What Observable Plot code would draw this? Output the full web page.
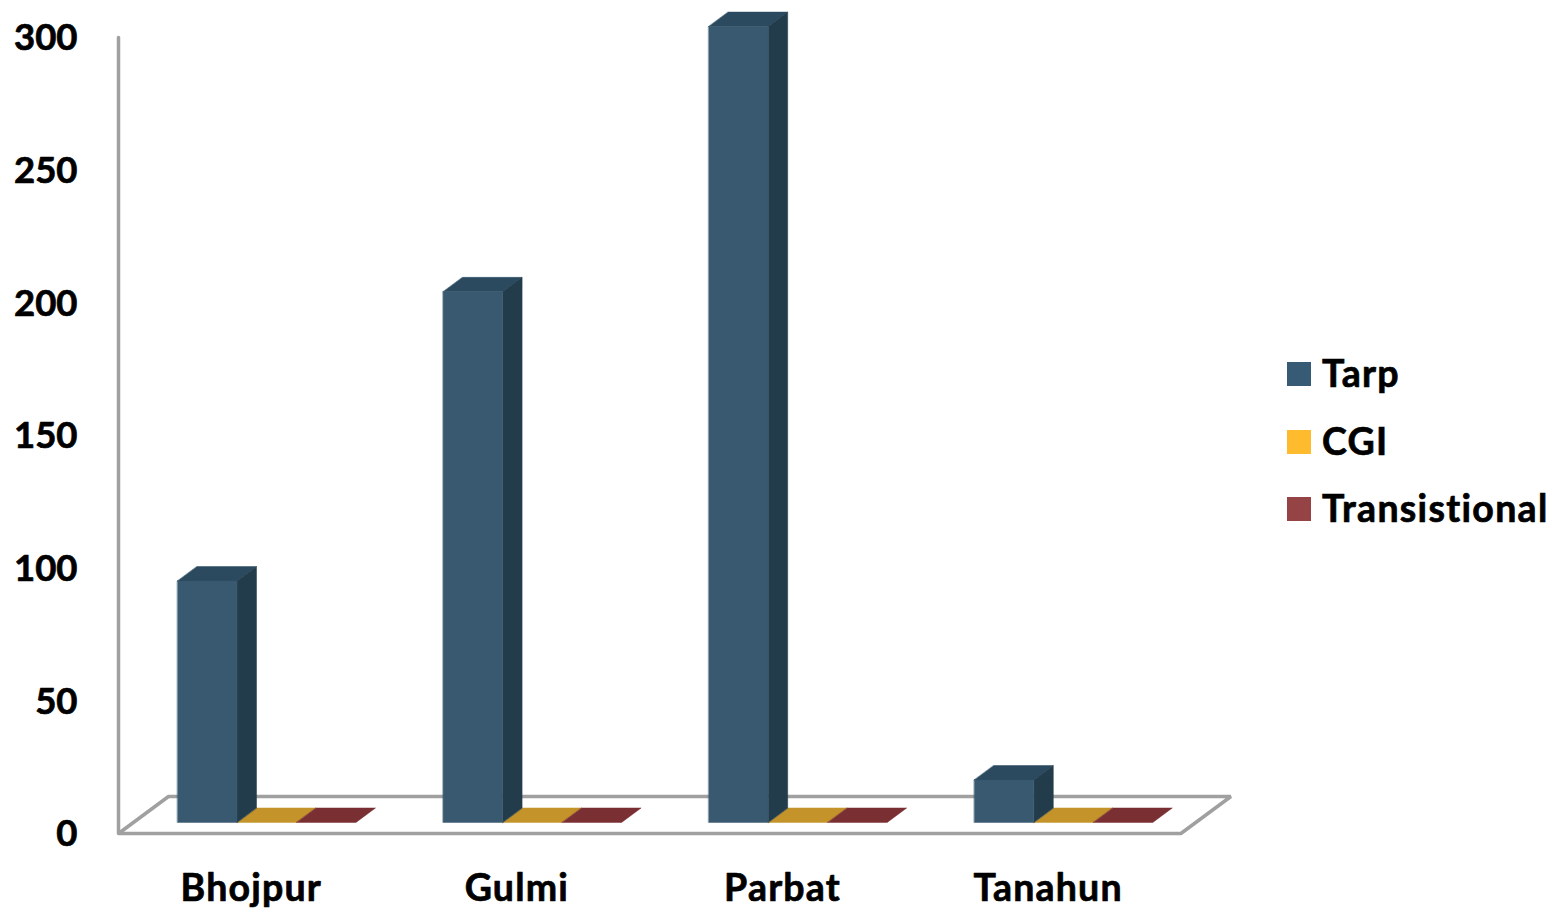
<!DOCTYPE html>
<html>
<head>
<meta charset="utf-8">
<script src="https://cdn.jsdelivr.net/npm/d3@7"></script>
<script src="https://cdn.jsdelivr.net/npm/@observablehq/plot@0.6"></script>
<style>
  html, body { margin: 0; padding: 0; background: #fff; }
  #wrap { position: relative; width: 1551px; height: 908px; overflow: hidden; font-family: Lato, "Open Sans", sans-serif; font-variant-ligatures: none; }
  #wrap svg { display: block; font-variant-ligatures: none; }
  #wrap svg g[aria-label="text"]:last-of-type text { letter-spacing: 1.2px; }
  .legend { position: absolute; left: 1287px; top: 340px; }
  .item { position: absolute; left: 0; height: 40px; white-space: nowrap; font-size: 37.5px; font-weight: 700; letter-spacing: 1.3px; color: #000; line-height: 40px; -webkit-text-stroke: 0.7px #000; }
  .item i { position: absolute; left: 0; top: 9px; width: 24px; height: 24px; }
  .item span { position: absolute; left: 35px; top: 0; }
</style>
</head>
<body>
<div id="wrap"></div>
<script>
const categories = ["Bhojpur", "Gulmi", "Parbat", "Tanahun"];
const tarp = [91, 200, 300, 16];
const cgi = [0, 0, 0, 0];
const transitional = [0, 0, 0, 0];
const yTicks = [0, 50, 100, 150, 200, 250, 300];
const seriesNames = ["Tarp", "CGI", "Transistional"];
const legendColors = ["#375B75", "#FFBB2E", "#964345"];
const frontColors = ["#38596F", "#C4942A", "#7A2F33"];
const sideColors = ["#233C4C", "#8F6C1E", "#5A2226"];
const topColors = ["#2B4A60", "#C4942A", "#7A2F33"];
const axisColor = "#A0A0A0";

const W = 1551, H = 908;
// px per category, px per value
const kx = 265.6, ky = 2.653;
// oblique projection of the depth axis, in data units
const depthX = 50 / kx, depthY = 37 / ky;
const project = (x, v, z) => ({x: x + z * depthX, y: v + z * depthY});

const barW = 59.5 / kx, barStart = 44 / kx, z0 = 0.3, z1 = 0.69;
const series = [tarp, cgi, transitional];

const faces = [];
const addFace = (id, color, pts) => pts.forEach(p => faces.push({id, color, ...p}));
series.forEach((vals, s) => vals.forEach((v, i) => {
  const a = i + barStart + s * barW, b = a + barW;
  const key = `${s}-${i}`;
  addFace(key + "t", topColors[s], [project(a, v, z0), project(b, v, z0), project(b, v, z1), project(a, v, z1)]);
  if (v > 0) {
    addFace(key + "s", sideColors[s], [project(b, 0, z0), project(b, v, z0), project(b, v, z1), project(b, 0, z1)]);
    addFace(key + "f", frontColors[s], [project(a, 0, z0), project(b, 0, z0), project(b, v, z0), project(a, v, z0)]);
  }
}));
// draw the flat (zero) tops first so the tall bars sit above them
const flat = faces.filter(f => !/^0/.test(f.id));
const solid = faces.filter(f => /^0/.test(f.id));

const n = categories.length;
const floor = [project(0, 0, 0), project(n, 0, 0), project(n, 0, 1), project(0, 0, 1)];
const wall = [project(0, 0, 0), project(0, 300, 0)];

const labelStyle = {fontWeight: 700, fill: "#000", stroke: "#000", strokeWidth: 0.7};

const chart = Plot.plot({
  width: W, height: H,
  margin: 0,
  style: {background: "#fff", fontFamily: "Lato, 'Open Sans', sans-serif"},
  x: {type: "linear", domain: [-118 / kx, (W - 118) / kx], range: [0, W], axis: null},
  y: {type: "linear", domain: [-(H - 833) / ky, 833 / ky], range: [H, 0], axis: null},
  color: {type: "identity"},
  marks: [
    Plot.line(floor, {x: "x", y: "y", curve: "linear-closed", stroke: axisColor, strokeWidth: 3.5, strokeLinejoin: "miter"}),
    Plot.line(wall, {x: "x", y: "y", stroke: axisColor, strokeWidth: 3.5}),
    Plot.line(flat, {x: "x", y: "y", z: "id", fill: "color", stroke: "color", strokeWidth: 0.5, curve: "linear-closed"}),
    Plot.line(solid, {x: "x", y: "y", z: "id", fill: "color", stroke: "color", strokeWidth: 0.5, curve: "linear-closed"}),
    Plot.text(yTicks, {x: () => 0, y: d => d, text: d => String(d), textAnchor: "end", dx: -41, dy: 1, fontSize: 36.5, ...labelStyle}),
    Plot.text(categories, {x: (d, i) => i + 0.5, y: () => 0, text: d => d, dy: 55, fontSize: 37.5, ...labelStyle})
  ]
});
const wrap = document.getElementById("wrap");
wrap.appendChild(chart);

const legend = document.createElement("div");
legend.className = "legend";
seriesNames.forEach((name, i) => {
  const item = document.createElement("div");
  item.className = "item";
  item.style.top = [13, 81, 148][i] + "px";
  const sw = document.createElement("i");
  sw.style.background = legendColors[i];
  const label = document.createElement("span");
  label.textContent = name;
  item.append(sw, label);
  legend.appendChild(item);
});
wrap.appendChild(legend);
</script>
</body>
</html>
